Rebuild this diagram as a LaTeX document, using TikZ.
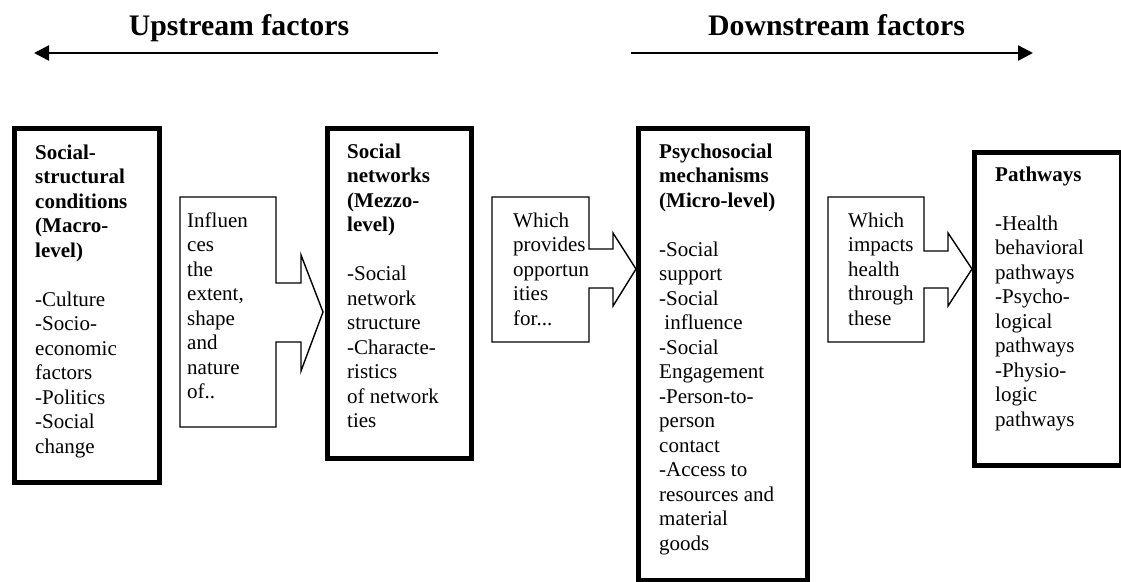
\documentclass[tikz,border=0pt]{standalone}
\usepackage{fontspec}
\setmainfont{Liberation Serif}
\usetikzlibrary{arrows.meta}
\begin{document}
\begin{tikzpicture}[x=1pt,y=-1pt,
  frame/.style={draw, line width=5.5pt, inner sep=0pt, anchor=north west},
  barrow/.style={draw, line width=1.4pt, line join=miter},
  txt/.style={anchor=base west, inner sep=0pt, font=\fontsize{21}{24.5}\selectfont},
  ttl/.style={anchor=base, inner sep=0pt, font=\fontsize{29.8}{34}\selectfont\bfseries},
  dirarrow/.style={line width=2.5pt, -{Triangle[length=15pt,width=15pt]}}]
\useasboundingbox (0,0) rectangle (1121,581);

% titles and direction arrows
\node[ttl] (up) at (239,35) {Upstream factors};
\node[ttl] (down) at (836.5,35) {Downstream factors};
\coordinate (u1) at (438,53);
\coordinate (u0) at (34,53);
\coordinate (d0) at (631,53);
\coordinate (d1) at (1033,53);
\draw[dirarrow] (u1) -- (u0);
\draw[dirarrow] (d0) -- (d1);

% boxes
\node[frame, minimum width=145pt, minimum height=354pt] (b1) at (11.5,125.5) {};
\node[frame, minimum width=144pt, minimum height=330pt] (b2) at (324.5,125.5) {};
\node[frame, minimum width=169pt, minimum height=452pt] (b3) at (635.5,125.5) {};
\node[frame, minimum width=147pt, minimum height=313pt] (b4) at (971.5,149.5) {};

% box texts
\node[txt] (t1) at (35,159) {\begin{tabular}[t]{@{}l@{}}\textbf{Social-}\\\textbf{structural}\\\textbf{conditions}\\\textbf{(Macro-}\\\textbf{level)}\\ \\-Culture\\-Socio-\\economic\\factors\\-Politics\\-Social\\change\end{tabular}};
\node[txt] (t2) at (347,158) {\begin{tabular}[t]{@{}l@{}}\textbf{Social}\\\textbf{networks}\\\textbf{(Mezzo-}\\\textbf{level)}\\ \\-Social\\network\\structure\\-Characte-\\ristics\\of network\\ties\end{tabular}};
\node[txt] (t3) at (659,158) {\begin{tabular}[t]{@{}l@{}}\textbf{Psychosocial}\\\textbf{mechanisms}\\\textbf{(Micro-level)}\\ \\-Social\\support\\-Social\\\ influence\\-Social\\Engagement\\-Person-to-\\person\\contact\\-Access to\\resources and\\material\\goods\end{tabular}};
\node[txt] (t4) at (995,181) {\begin{tabular}[t]{@{}l@{}}\textbf{Pathways}\\ \\-Health\\behavioral\\pathways\\-Psycho-\\logical\\pathways\\-Physio-\\logic\\pathways\end{tabular}};

% block arrows
\draw[barrow] (180,197) -- (276,197) -- (276,283) -- (301,283) -- (301,255) -- (323,312) -- (301,371) -- (301,342) -- (276,342) -- (276,427) -- (180,427) -- cycle;
\draw[barrow] (492,197) -- (589,197) -- (589,249) -- (613,249) -- (613,233) -- (636,269) -- (613,306) -- (613,288) -- (589,288) -- (589,342) -- (492,342) -- cycle;
\draw[barrow] (828,197) -- (924,197) -- (924,251) -- (948,251) -- (948,233) -- (972,269) -- (948,306) -- (948,288) -- (924,288) -- (924,342) -- (828,342) -- cycle;

% arrow texts
\node[txt] (a1) at (187,227) {\begin{tabular}[t]{@{}l@{}}Influen\\ces\\the\\extent,\\shape\\and\\nature\\of..\end{tabular}};
\node[txt] (a2) at (513,227) {\begin{tabular}[t]{@{}l@{}}Which\\provides\\opportun\\ities\\for...\end{tabular}};
\node[txt] (a3) at (848,227) {\begin{tabular}[t]{@{}l@{}}Which\\impacts\\health\\through\\these\end{tabular}};
\end{tikzpicture}
\end{document}
